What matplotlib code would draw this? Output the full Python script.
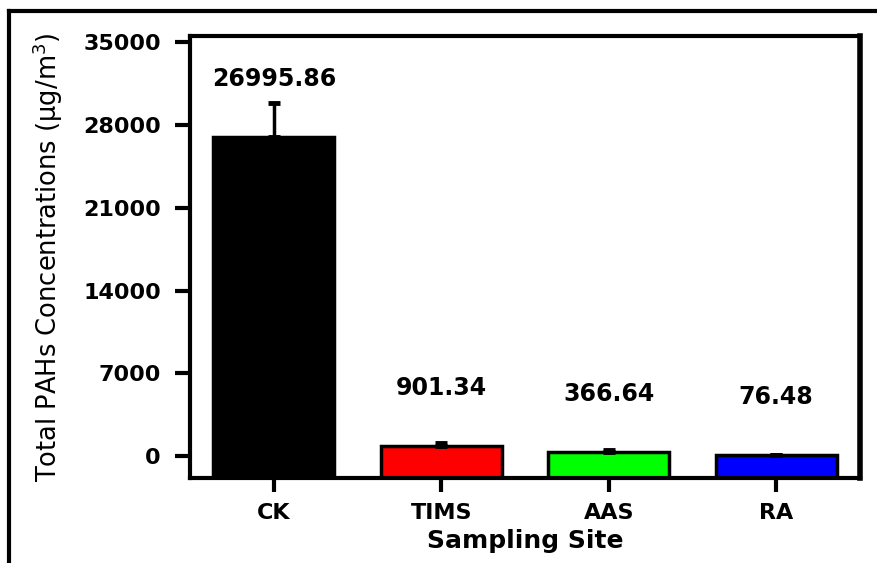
import matplotlib
matplotlib.use('Agg')
import matplotlib.pyplot as plt
from matplotlib.lines import Line2D

sites = ['CK', 'TIMS', 'AAS', 'RA']
totals = [26995.86, 901.34, 366.64, 76.48]
errors = [2860, 260, 150, 40]
colors = ['#000000', '#ff0000', '#00ff00', '#0000ff']
yticks = [0, 7000, 14000, 21000, 28000, 35000]

plt.rcParams['font.family'] = 'DejaVu Sans'

fig = plt.figure(figsize=(8.77, 5.63), dpi=100)
ax = fig.add_axes([0.2167, 0.1505, 0.7639, 0.7855])

y_min, y_max = -1850, 35500
x = range(len(sites))
# bars start at the bottom of the axis
ax.bar(x, [v - y_min for v in totals], bottom=y_min, width=0.72, color=colors,
       edgecolor='black', linewidth=2.5, zorder=2)
ax.errorbar(x, totals, yerr=[[0] * len(errors), errors], fmt='none', ecolor='black',
            elinewidth=2.5, capsize=4.5, capthick=3.5, zorder=3)

# value labels above each bar
for xi, v in zip(x, totals):
    ax.text(xi, v + 4900, f'{v:.2f}', ha='center', va='center',
            fontsize=17, fontweight='bold')

ax.set_xlim(-0.5, 3.5)
ax.set_ylim(y_min, y_max)
ax.set_xticks(list(x))
ax.set_xticklabels(sites)
ax.set_yticks(yticks)
ax.set_yticklabels([str(t) for t in yticks])

for side in ['left', 'right', 'top', 'bottom']:
    ax.spines[side].set_linewidth(3)
ax.spines['right'].set_linewidth(4)
ax.tick_params(axis='y', direction='out', length=11, width=3, pad=10, labelsize=16)
ax.tick_params(axis='x', direction='out', length=10, width=3, pad=8, labelsize=16)
for lab in ax.get_xticklabels() + ax.get_yticklabels():
    lab.set_fontweight('bold')

ax.set_xlabel('Sampling Site', fontsize=18, fontweight='bold', labelpad=4)
ax.set_ylabel('Total PAHs Concentrations (μg/m$^3$)', fontsize=18.5, labelpad=13)

# frame lines around the figure (left and top)
fig.add_artist(Line2D([0.0103, 0.0103], [0.0, 0.980], transform=fig.transFigure,
                      color='black', linewidth=3))
fig.add_artist(Line2D([0.0103, 1.0], [0.980, 0.980], transform=fig.transFigure,
                      color='black', linewidth=3))

fig.savefig('out.png', dpi=100)
plt.close(fig)
